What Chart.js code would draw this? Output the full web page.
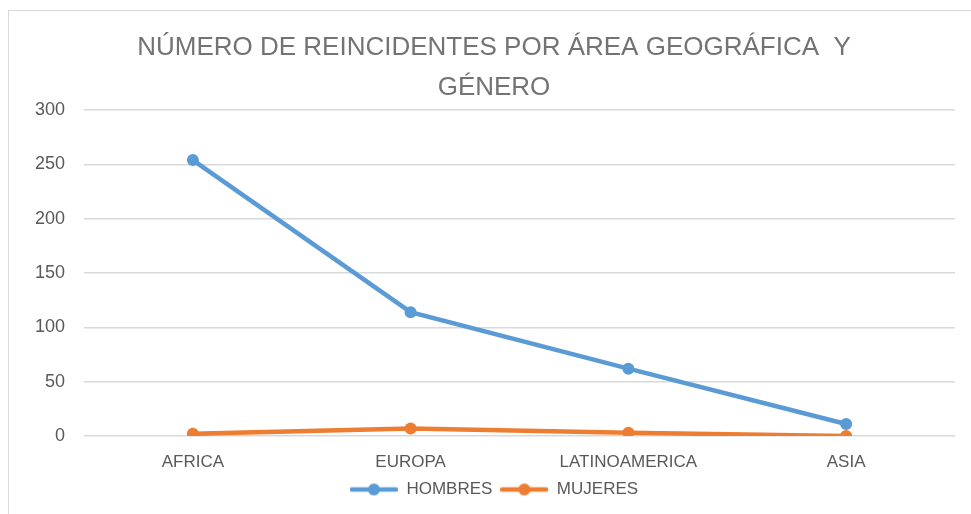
<!DOCTYPE html>
<html>
<head>
<meta charset="utf-8">
<script src="https://cdn.jsdelivr.net/npm/chart.js@4.4.1/dist/chart.umd.min.js"></script>
<style>
  body { margin: 0; background: #fff; overflow: hidden; }
  #frame { position: absolute; left: 8px; top: 10px; width: 1000px; height: 600px; border: 1px solid #d9d9d9; }
  #chart { position: absolute; left: 0; top: 0; }
</style>
</head>
<body>
<div id="frame"></div>
<canvas id="chart" width="971" height="514"></canvas>
<script>
// Chart data
const categories = ['AFRICA', 'EUROPA', 'LATINOAMERICA', 'ASIA'];
const hombres = [254, 114, 62, 11];
const mujeres = [2, 7, 3, 0];
const yTicks = [0, 50, 100, 150, 200, 250, 300];

const FONT = "'Liberation Sans', Arial, sans-serif";
const BLUE = '#5b9bd5';
const ORANGE = '#ed7d31';

// legend marker: line with a dot in the middle
function legendMarker(color) {
    const c = document.createElement('canvas');
    c.width = 48;
    c.height = 14;
    const g = c.getContext('2d');
    g.strokeStyle = color;
    g.lineWidth = 4.5;
    g.lineCap = 'round';
    g.beginPath();
    g.moveTo(2, 7);
    g.lineTo(46, 7);
    g.stroke();
    g.fillStyle = color;
    g.beginPath();
    g.arc(24, 7, 6, 0, Math.PI * 2);
    g.fill();
    return c;
}

const ctx = document.getElementById('chart').getContext('2d');
new Chart(ctx, {
    type: 'line',
    data: {
        labels: categories,
        datasets: [{
            label: 'HOMBRES',
            data: hombres,
            borderColor: BLUE,
            backgroundColor: BLUE,
            borderWidth: 4.5,
            pointRadius: 6,
            pointBorderWidth: 0,
            pointStyle: 'circle'
        }, {
            label: 'MUJERES',
            data: mujeres,
            borderColor: ORANGE,
            backgroundColor: ORANGE,
            borderWidth: 4.5,
            pointRadius: 6,
            pointBorderWidth: 0,
            pointStyle: 'circle'
        }]
    },
    options: {
        responsive: false,
        animation: false,
        layout: { padding: { left: 33, right: 16, top: 0, bottom: 6 } },
        plugins: {
            title: {
                display: true,
                text: ['NÚMERO DE REINCIDENTES POR ÁREA GEOGRÁFICA  Y', 'GÉNERO'],
                color: '#737373',
                font: { family: FONT, size: 26, weight: 'normal', lineHeight: 1.54 },
                padding: { top: 28, bottom: 2 }
            },
            legend: {
                position: 'bottom',
                labels: {
                    usePointStyle: true,
                    pointStyleWidth: 48,
                    boxHeight: 14,
                    color: '#595959',
                    font: { family: FONT, size: 17 },
                    padding: 8,
                    generateLabels: chart => chart.data.datasets.map((ds, i) => ({
                        text: ds.label,
                        pointStyle: legendMarker(ds.borderColor),
                        fontColor: '#595959',
                        lineWidth: 0,
                        strokeStyle: 'transparent',
                        fillStyle: ds.borderColor,
                        datasetIndex: i
                    }))
                }
            },
            tooltip: { enabled: false }
        },
        scales: {
            x: {
                offset: true,
                afterFit: scale => { scale.height = 37; },
                grid: { display: false, drawTicks: false },
                border: { display: false },
                ticks: { color: '#595959', font: { family: FONT, size: 17 }, padding: 16, maxRotation: 0 }
            },
            y: {
                min: 0,
                max: 300,
                afterFit: scale => { scale.width = 51; },
                afterBuildTicks: scale => { scale.ticks = yTicks.map(v => ({ value: v })); },
                grid: { color: '#d9d9d9', lineWidth: 1.5, drawTicks: false },
                border: { display: false },
                ticks: { color: '#595959', font: { family: FONT, size: 18 }, padding: 19 }
            }
        }
    }
});
</script>
</body>
</html>
